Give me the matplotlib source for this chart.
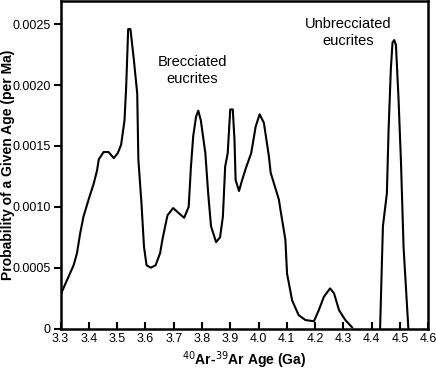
import matplotlib.pyplot as plt

plt.rcParams['font.family'] = ['Liberation Sans', 'DejaVu Sans']

# brecciated eucrites (age in Ga, probability per Ma)
brec_age = [3.304, 3.346, 3.358, 3.369, 3.381, 3.399, 3.417, 3.429, 3.435, 3.452,
            3.470, 3.488, 3.502, 3.514, 3.526, 3.532, 3.539, 3.547, 3.559, 3.571,
            3.575, 3.586, 3.595, 3.604, 3.619, 3.636, 3.652, 3.660, 3.678, 3.698,
            3.717, 3.737, 3.753, 3.761, 3.769, 3.779, 3.787, 3.796, 3.812, 3.822,
            3.832, 3.850, 3.864, 3.874, 3.882, 3.891, 3.900, 3.909, 3.915, 3.919,
            3.931, 3.942, 3.957, 3.974, 3.990, 4.004, 4.019, 4.037, 4.043, 4.072,
            4.078, 4.095, 4.101, 4.119, 4.142, 4.166, 4.196, 4.213, 4.231, 4.253,
            4.267, 4.285, 4.307, 4.331]
brec_prob = [0.00030, 0.00052, 0.00062, 0.00078, 0.00092, 0.00106, 0.00119, 0.00130, 0.00139, 0.00145,
             0.00145, 0.00140, 0.00144, 0.00151, 0.00171, 0.00199, 0.00246, 0.00246, 0.00221, 0.00193,
             0.00139, 0.00103, 0.00067, 0.00052, 0.00050, 0.00052, 0.00062, 0.00073, 0.00093, 0.00099,
             0.00095, 0.00091, 0.00100, 0.00133, 0.00158, 0.00174, 0.00179, 0.00171, 0.00144, 0.00111,
             0.00084, 0.00071, 0.00075, 0.00092, 0.00133, 0.00144, 0.00180, 0.00180, 0.00155, 0.00122,
             0.00113, 0.00122, 0.00133, 0.00144, 0.00166, 0.00176, 0.00169, 0.00141, 0.00128, 0.00106,
             0.00097, 0.00073, 0.00045, 0.00023, 0.00011, 0.00007, 0.00006, 0.00015, 0.00026, 0.00033,
             0.00029, 0.00015, 0.00007, 0.00001]

# unbrecciated eucrites
unbrec_age = [4.430, 4.440, 4.454, 4.460, 4.468, 4.474, 4.480, 4.486, 4.495, 4.504, 4.513, 4.530]
unbrec_prob = [0.0, 0.00084, 0.00111, 0.00163, 0.00213, 0.00235, 0.00237, 0.00233, 0.00190, 0.00136, 0.00067, 0.0]

xticks = [3.3, 3.4, 3.5, 3.6, 3.7, 3.8, 3.9, 4.0, 4.1, 4.2, 4.3, 4.4, 4.5, 4.6]
yticks = [0, 0.0005, 0.0010, 0.0015, 0.0020, 0.0025]
ytick_labels = ['0', '0.0005', '0.0010', '0.0015', '0.0020', '0.0025']

fig = plt.figure(figsize=(4.36, 3.70), dpi=100)
ax = fig.add_axes([0.139, 0.112, 0.843, 0.885])

ax.plot(brec_age, brec_prob, color='black', lw=1.5, solid_joinstyle='round')
ax.plot(unbrec_age, unbrec_prob, color='black', lw=1.5, solid_joinstyle='round')

ax.set_xlim(3.3, 4.6)
ax.set_ylim(0, 0.00269)
ax.set_xticks(xticks)
ax.set_xticklabels([f'{t:.1f}' for t in xticks])
ax.set_yticks(yticks)
ax.set_yticklabels(ytick_labels)
ax.tick_params(axis='x', direction='in', length=5, width=1.5, labelsize=9, pad=3)
ax.tick_params(axis='y', direction='out', length=5, width=1.5, labelsize=9, pad=2)
for s in ax.spines.values():
    s.set_linewidth(1.8)

ax.set_xlabel('$^{40}$Ar-$^{39}$Ar Age (Ga)', fontsize=10, fontweight='bold', labelpad=3.5)
ax.set_ylabel('Probability of a Given Age (per Ma)', fontsize=10, fontweight='bold')
ax.yaxis.set_label_coords(-0.125, 0.5)

ax.text(3.765, 0.00212, 'Brecciated\neucrites', ha='center', va='center', fontsize=10.5, linespacing=1.3)
ax.text(4.317, 0.00243, 'Unbrecciated\neucrites', ha='center', va='center', fontsize=10.5, linespacing=1.3)

fig.savefig('out.png', dpi=100)
